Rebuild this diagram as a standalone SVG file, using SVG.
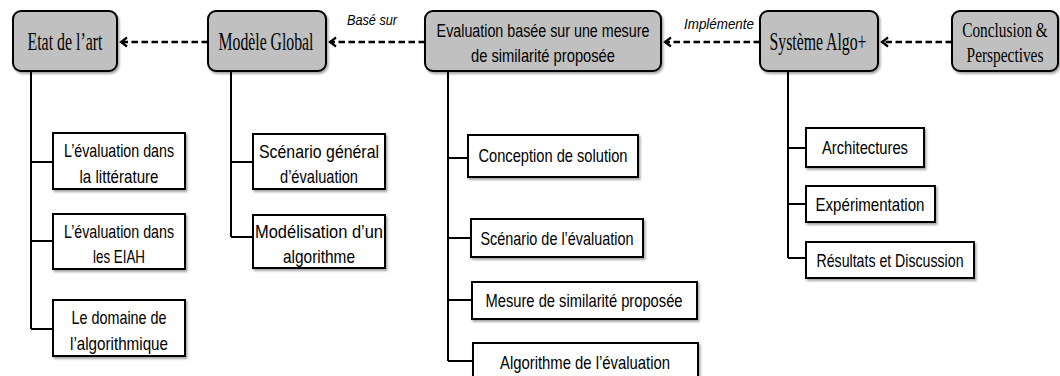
<svg xmlns="http://www.w3.org/2000/svg" width="1060" height="376" viewBox="0 0 1060 376">
  <defs>
    <filter id="shadow" x="-10%" y="-10%" width="125%" height="130%">
      <feDropShadow dx="1.5" dy="2" stdDeviation="1.2" flood-color="#000" flood-opacity="0.35"/>
    </filter>
    <marker id="chev" markerUnits="userSpaceOnUse" markerWidth="12" markerHeight="12" refX="8" refY="6" orient="auto">
      <path d="M2,1.5 L8,6 L2,10.5" fill="none" stroke="#000" stroke-width="2.2"/>
    </marker>
    <style>
      .main { fill: #c0c0c0; stroke: #000; stroke-width: 2; filter: url(#shadow); }
      .sub { fill: #fff; stroke: #000; stroke-width: 2; filter: url(#shadow); }
      .serif { font-family: "Liberation Serif", "Times New Roman", serif; font-size: 26px; fill: #000; text-anchor: middle; }
      .serif-sm { font-family: "Liberation Serif", "Times New Roman", serif; font-size: 20px; fill: #000; text-anchor: middle; }
      .sans { font-family: "Liberation Sans", Arial, sans-serif; font-size: 18.5px; fill: #000; text-anchor: middle; }
      .lbl { font-family: "Liberation Sans", Arial, sans-serif; font-size: 15px; font-style: italic; fill: #000; text-anchor: middle; }
      .tree { fill: none; stroke: #000; stroke-width: 2; }
      .dash { fill: none; stroke: #000; stroke-width: 2.5; stroke-dasharray: 6.5 3.5; marker-end: url(#chev); }
    </style>
  </defs>

  <rect width="1060" height="376" fill="#fff"/>

  <!-- connectors -->
  <g id="connectors">
    <!-- dashed dependencies between chapters -->
    <path class="dash" d="M208,42 H121"/>
    <path class="dash" d="M425,42 H330"/>
    <path class="dash" d="M760,42 H665"/>
    <path class="dash" d="M952,42 H882"/>
    <text class="lbl" x="372" y="25" textLength="50" lengthAdjust="spacingAndGlyphs">Basé sur</text>
    <text class="lbl" x="719" y="29" textLength="70" lengthAdjust="spacingAndGlyphs">Implémente</text>

    <!-- section trees -->
    <path class="tree" d="M31,71 V329 M31,162 H53 M31,241 H53 M31,329 H53"/>
    <path class="tree" d="M231,71 V237 M231,162 H253 M231,237 H253"/>
    <path class="tree" d="M448,71 V361 M448,158 H468 M448,238 H471 M448,300 H472 M448,361 H473"/>
    <path class="tree" d="M788,71 V258 M788,148 H806 M788,204 H806 M788,258 H806"/>
  </g>

  <!-- chapters -->
  <g id="etat">
    <rect class="main" x="13" y="11" width="104" height="60" rx="8"/>
    <text class="serif" x="65" y="50" textLength="75" lengthAdjust="spacingAndGlyphs">Etat de l’art</text>
  </g>
  <g id="modele">
    <rect class="main" x="208" y="11" width="118" height="60" rx="8"/>
    <text class="serif" x="266" y="50" textLength="95" lengthAdjust="spacingAndGlyphs">Modèle Global</text>
  </g>
  <g id="evaluation">
    <rect class="main" x="425" y="11" width="236" height="60" rx="8"/>
    <text class="sans" transform="translate(543,37) scale(0.76,1)" x="0" y="0" textLength="280" lengthAdjust="spacingAndGlyphs">Evaluation basée sur une mesure</text>
    <text class="sans" x="543" y="62" textLength="144" lengthAdjust="spacingAndGlyphs">de similarité proposée</text>
  </g>
  <g id="systeme">
    <rect class="main" x="760" y="11" width="118" height="60" rx="8"/>
    <text class="serif" x="818" y="50" textLength="97" lengthAdjust="spacingAndGlyphs">Système Algo+</text>
  </g>
  <g id="conclusion">
    <rect class="main" x="952" y="11" width="106" height="60" rx="8"/>
    <!-- narrow serif: horizontally condensed lines -->
    <text class="serif-sm" transform="translate(1005,37) scale(0.8,1)" x="0" y="0" textLength="107" lengthAdjust="spacingAndGlyphs">Conclusion &amp;</text>
    <text class="serif-sm" transform="translate(1005,62) scale(0.8,1)" x="0" y="0" textLength="96" lengthAdjust="spacingAndGlyphs">Perspectives</text>
  </g>

  <!-- Etat de l'art sections -->
  <g id="etat-litterature">
    <rect class="sub" x="53" y="133" width="132" height="56"/>
    <text class="sans" x="119" y="157" textLength="110" lengthAdjust="spacingAndGlyphs">L’évaluation dans</text>
    <text class="sans" x="119" y="183" textLength="79" lengthAdjust="spacingAndGlyphs">la littérature</text>
  </g>
  <g id="etat-eiah">
    <rect class="sub" x="53" y="214" width="132" height="55"/>
    <text class="sans" x="119" y="238" textLength="110" lengthAdjust="spacingAndGlyphs">L’évaluation dans</text>
    <text class="sans" x="119" y="263" textLength="52" lengthAdjust="spacingAndGlyphs">les EIAH</text>
  </g>
  <g id="etat-domaine">
    <rect class="sub" x="53" y="300" width="132" height="56"/>
    <text class="sans" x="119" y="324" textLength="95" lengthAdjust="spacingAndGlyphs">Le domaine de</text>
    <text class="sans" x="119" y="350" textLength="98" lengthAdjust="spacingAndGlyphs">l’algorithmique</text>
  </g>

  <!-- Modèle Global sections -->
  <g id="modele-scenario">
    <rect class="sub" x="253" y="134" width="132" height="55"/>
    <text class="sans" x="319" y="158" textLength="120" lengthAdjust="spacingAndGlyphs">Scénario général</text>
    <text class="sans" x="319" y="183" textLength="78" lengthAdjust="spacingAndGlyphs">d’évaluation</text>
  </g>
  <g id="modele-algorithme">
    <rect class="sub" x="253" y="215" width="132" height="53"/>
    <text class="sans" x="319" y="238" textLength="128" lengthAdjust="spacingAndGlyphs">Modélisation d’un</text>
    <text class="sans" x="319" y="263" textLength="72" lengthAdjust="spacingAndGlyphs">algorithme</text>
  </g>

  <!-- Evaluation sections -->
  <g id="eval-conception">
    <rect class="sub" x="468" y="135" width="170" height="42"/>
    <text class="sans" x="553" y="162" textLength="149" lengthAdjust="spacingAndGlyphs">Conception de solution</text>
  </g>
  <g id="eval-scenario">
    <rect class="sub" x="471" y="219" width="172" height="38"/>
    <text class="sans" x="557" y="245" textLength="153" lengthAdjust="spacingAndGlyphs">Scénario de l’évaluation</text>
  </g>
  <g id="eval-mesure">
    <rect class="sub" x="472" y="282" width="225" height="37"/>
    <text class="sans" x="584" y="307" textLength="197" lengthAdjust="spacingAndGlyphs">Mesure de similarité proposée</text>
  </g>
  <g id="eval-algorithme">
    <rect class="sub" x="473" y="343" width="225" height="40"/>
    <text class="sans" x="585" y="369" textLength="170" lengthAdjust="spacingAndGlyphs">Algorithme de l’évaluation</text>
  </g>

  <!-- Système Algo+ sections -->
  <g id="sys-architectures">
    <rect class="sub" x="806" y="128" width="118" height="39"/>
    <text class="sans" x="865" y="154" textLength="86" lengthAdjust="spacingAndGlyphs">Architectures</text>
  </g>
  <g id="sys-experimentation">
    <rect class="sub" x="806" y="186" width="129" height="36"/>
    <text class="sans" x="870" y="211" textLength="109" lengthAdjust="spacingAndGlyphs">Expérimentation</text>
  </g>
  <g id="sys-resultats">
    <rect class="sub" x="806" y="242" width="168" height="36"/>
    <text class="sans" x="890" y="267" textLength="147" lengthAdjust="spacingAndGlyphs">Résultats et Discussion</text>
  </g>
</svg>
